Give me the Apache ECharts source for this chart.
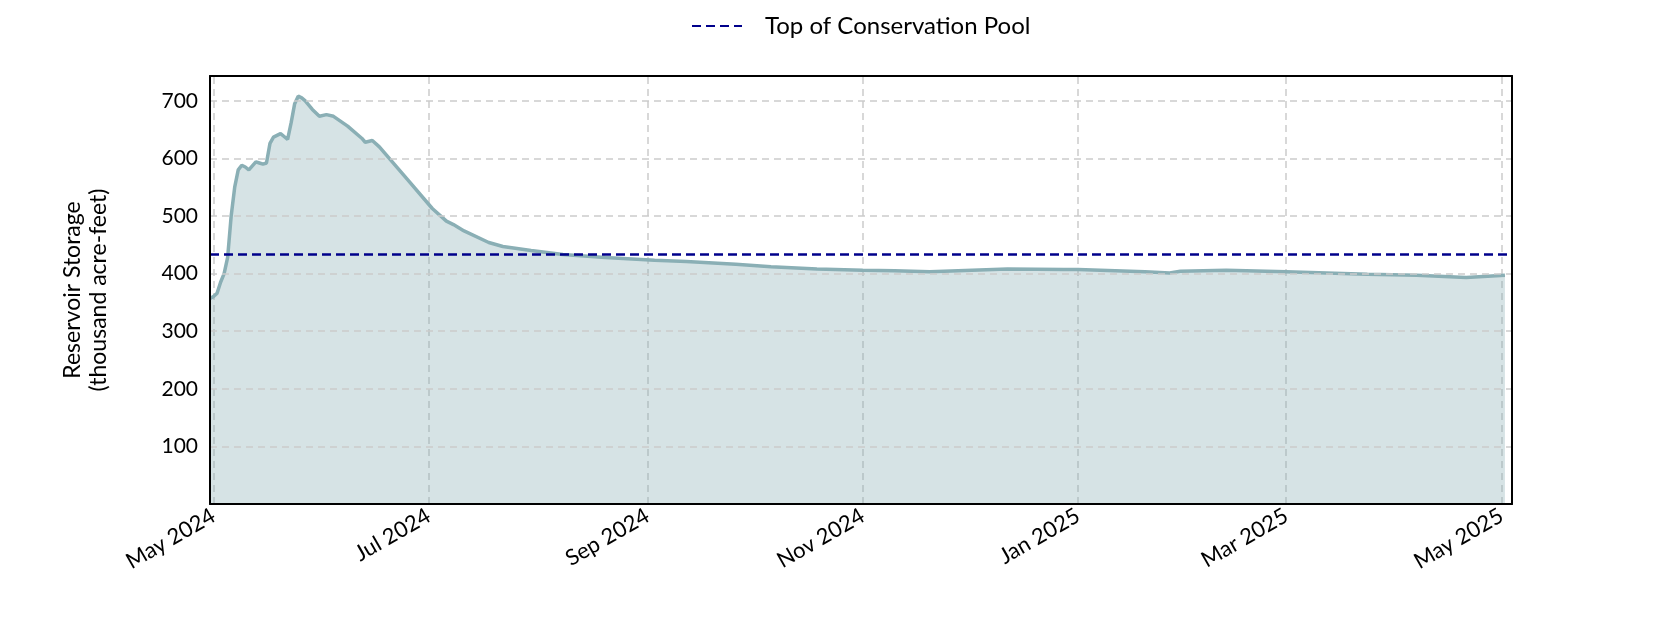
<!DOCTYPE html>
<html>
<head>
<meta charset="utf-8">
<title>Reservoir Storage</title>
<script src="https://cdn.jsdelivr.net/npm/echarts@6/dist/echarts.min.js"></script>
<style>
  html, body { margin: 0; padding: 0; background: #fff; }
  #chart { width: 1680px; height: 630px; }
</style>
</head>
<body>
<div id="chart"></div>
<script>
// storage readings (thousand acre-feet)
const dates = [
  '2024-04-30', '2024-05-01', '2024-05-02', '2024-05-03', '2024-05-04', '2024-05-05',
  '2024-05-06', '2024-05-07', '2024-05-08', '2024-05-09', '2024-05-10', '2024-05-11',
  '2024-05-12', '2024-05-13', '2024-05-14', '2024-05-15', '2024-05-16', '2024-05-17',
  '2024-05-18', '2024-05-20', '2024-05-21', '2024-05-22', '2024-05-23', '2024-05-24',
  '2024-05-25', '2024-05-26', '2024-05-27', '2024-05-29', '2024-05-31', '2024-06-02',
  '2024-06-04', '2024-06-08', '2024-06-12', '2024-06-13', '2024-06-15', '2024-06-17',
  '2024-06-25', '2024-07-02', '2024-07-06', '2024-07-08', '2024-07-11', '2024-07-18',
  '2024-07-22', '2024-07-30', '2024-08-08', '2024-08-20', '2024-09-03', '2024-09-12',
  '2024-09-26', '2024-10-06', '2024-10-19', '2024-11-01', '2024-11-10', '2024-11-20',
  '2024-11-28', '2024-12-12', '2024-12-28', '2025-01-01', '2025-01-20', '2025-01-27',
  '2025-01-30', '2025-02-12', '2025-03-01', '2025-03-24', '2025-04-07', '2025-04-21',
  '2025-05-02'
];
const storage = [
  357, 360, 366, 385, 400, 428,
  500, 550, 580, 588, 585, 580,
  587, 594, 592, 590, 592, 626,
  637, 643, 638, 633, 662, 695,
  708, 705, 700, 685, 673, 676,
  673, 656, 635, 628, 631, 620,
  563, 513, 491, 485, 474, 454,
  447, 440, 433, 428, 423, 421,
  416, 412, 408, 406, 405, 403,
  405, 408, 407, 407, 403, 401,
  404, 406, 403, 399, 397, 393,
  397
];
const conservationPool = 433;

const xRange = ['2024-04-30', '2025-05-04'];
const xTicks = ['2024-05-01', '2024-07-01', '2024-09-01', '2024-11-01', '2025-01-01', '2025-03-01', '2025-05-01'];
const monthNames = ['Jan', 'Feb', 'Mar', 'Apr', 'May', 'Jun', 'Jul', 'Aug', 'Sep', 'Oct', 'Nov', 'Dec'];
const yMax = 743;

const FONT = 'Lato';

function toTime(s) {
  const p = s.split('-').map(Number);
  return Date.UTC(p[0], p[1] - 1, p[2]);
}

function fmtMonth(v) {
  const d = new Date(v);
  return monthNames[d.getUTCMonth()] + ' ' + d.getUTCFullYear();
}

const seriesData = dates.map((d, i) => [toTime(d), storage[i]]);
const tickTimes = xTicks.map(toTime);
const xMin = toTime(xRange[0]);
const xMax = toTime(xRange[1]);

const chart = echarts.init(document.getElementById('chart'), null, { renderer: 'canvas' });

// black frame on all four sides
const frameLine = { show: true, onZero: false, lineStyle: { color: '#000', width: 2 } };

chart.setOption({
  animation: false,
  textStyle: { fontFamily: FONT, color: '#000' },
  legend: {
    data: ['Top of Conservation Pool'],
    left: 686,
    top: 9,
    itemWidth: 50,
    itemHeight: 14,
    itemStyle: { opacity: 0 },
    textStyle: { fontFamily: FONT, fontSize: 24, color: '#000', padding: [0, 0, 0, 18] }
  },
  grid: { left: 210, right: 168, top: 76, bottom: 126 },
  xAxis: [{
    type: 'value',
    min: xMin,
    max: xMax,
    position: 'bottom',
    z: 10,
    axisLine: frameLine,
    axisTick: { show: false },
    splitLine: { show: false },
    axisLabel: {
      customValues: tickTimes,
      rotate: 30,
      margin: 10,
      fontFamily: FONT,
      fontSize: 22,
      color: '#000',
      formatter: fmtMonth
    }
  }, {
    type: 'value',
    min: xMin,
    max: xMax,
    position: 'top',
    z: 10,
    axisLine: frameLine,
    axisTick: { show: false },
    axisLabel: { show: false },
    splitLine: { show: false }
  }],
  yAxis: [{
    type: 'value',
    min: 0,
    max: yMax,
    interval: 100,
    position: 'left',
    z: 10,
    name: 'Reservoir Storage\n(thousand acre-feet)',
    nameLocation: 'middle',
    nameGap: 98,
    nameTextStyle: { fontFamily: FONT, fontSize: 23, lineHeight: 26, color: '#000' },
    axisLine: frameLine,
    axisTick: { show: false },
    axisLabel: {
      showMaxLabel: false,
      margin: 12,
      fontFamily: FONT,
      fontSize: 21,
      color: '#000',
      formatter: v => (v === 0 ? '' : String(v))
    },
    splitLine: { show: true, lineStyle: { color: '#cccccc', width: 1.5, type: [7, 5] } }
  }, {
    type: 'value',
    min: 0,
    max: yMax,
    position: 'right',
    z: 10,
    axisLine: frameLine,
    axisTick: { show: false },
    axisLabel: { show: false },
    splitLine: { show: false }
  }],
  series: [{
    name: 'Storage',
    type: 'line',
    data: seriesData,
    symbol: 'none',
    z: 3,
    lineStyle: { color: '#8aafb5', width: 3.5 },
    areaStyle: { color: '#8aafb5', opacity: 0.35 }
  }, {
    name: 'Top of Conservation Pool',
    type: 'line',
    data: [[xMin, conservationPool], [xMax, conservationPool]],
    symbol: 'none',
    z: 4,
    itemStyle: { color: '#00008b' },
    lineStyle: { color: '#00008b', width: 2.5, type: [9, 5] },
    markLine: {
      silent: true,
      symbol: 'none',
      label: { show: false },
      z: 1,
      lineStyle: { color: '#cccccc', width: 1.5, type: [7, 5] },
      data: tickTimes.map(t => ({ xAxis: t }))
    }
  }]
});
</script>
</body>
</html>
